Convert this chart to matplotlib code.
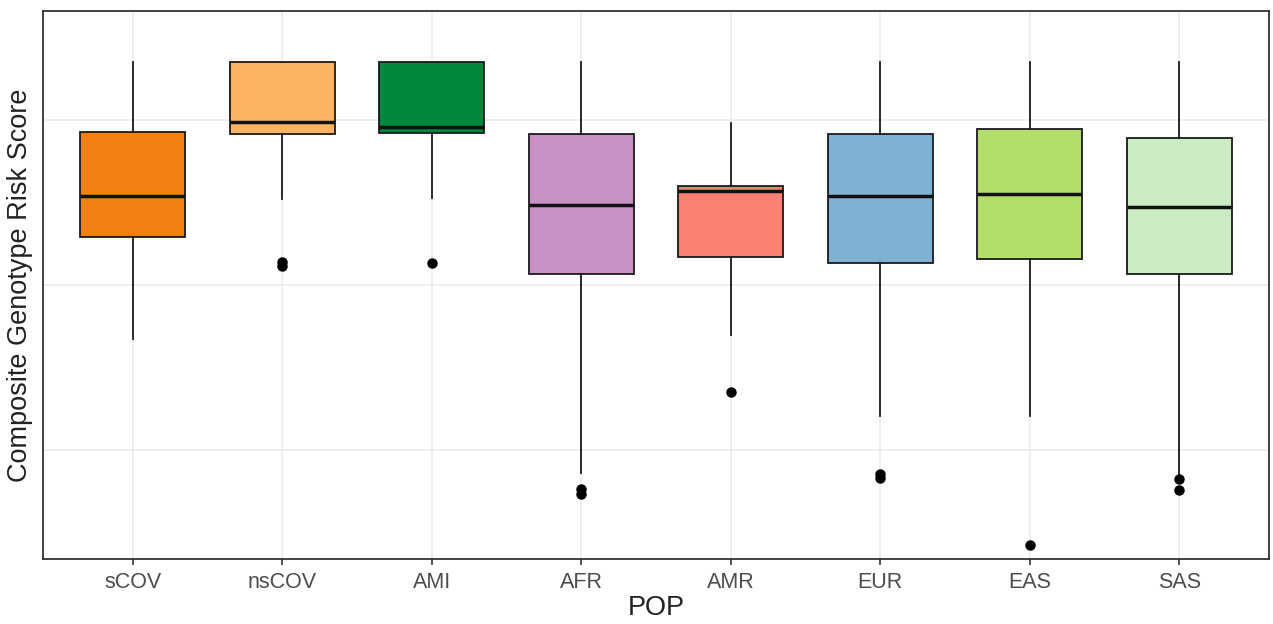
import matplotlib
matplotlib.use("Agg")
import matplotlib.pyplot as plt

plt.rcParams['font.family'] = ['Liberation Sans', 'DejaVu Sans']

pops = ['sCOV', 'nsCOV', 'AMI', 'AFR', 'AMR', 'EUR', 'EAS', 'SAS']
colors = ['#F08010', '#FCB462', '#02883E', '#C990C5', '#FA8072', '#7FB1D3', '#B3DE69', '#CCEBC5']

# box stats (arbitrary units, no y labels shown)
whis_hi = [3.347, 3.347, 3.347, 3.347, 2.979, 3.347, 3.347, 3.347]
q3 = [2.924, 3.347, 3.347, 2.912, 2.598, 2.912, 2.943, 2.888]
medians = [2.538, 2.985, 2.955, 2.483, 2.568, 2.538, 2.550, 2.471]
q1 = [2.290, 2.912, 2.918, 2.066, 2.169, 2.133, 2.157, 2.066]
whis_lo = [1.674, 2.520, 2.526, 0.864, 1.698, 1.208, 1.208, 0.846]
outliers = [[], [2.139, 2.115], [2.133], [0.767, 0.737], [1.353],
            [0.858, 0.834], [0.429], [0.828, 0.761]]

stats = []
for i in range(len(pops)):
    stats.append({'med': medians[i], 'q1': q1[i], 'q3': q3[i],
                  'whislo': whis_lo[i], 'whishi': whis_hi[i],
                  'fliers': outliers[i], 'label': pops[i]})

fig = plt.figure(figsize=(12.73, 6.24), dpi=100)
ax = fig.add_axes([43/1273, 65/624, 1226/1273, 548/624])

ax.set_axisbelow(True)
ax.grid(True, color='#EBEBEB', linewidth=1.2)

bp = ax.bxp(stats, positions=range(1, 9), widths=0.7, patch_artist=True,
            showcaps=False,
            boxprops=dict(edgecolor='#1a1a1a', linewidth=1.3),
            medianprops=dict(color='#111111', linewidth=2.5),
            whiskerprops=dict(color='#1a1a1a', linewidth=1.3),
            flierprops=dict(marker='o', markerfacecolor='black',
                            markeredgecolor='black', markersize=6.5))
for patch, c in zip(bp['boxes'], colors):
    patch.set_facecolor(c)

ax.set_xlim(0.4, 8.6)
ax.set_ylim(0.344, 3.656)
ax.set_yticks([1.0, 2.0, 3.0])
ax.set_yticklabels([])
ax.tick_params(axis='y', length=0)
ax.tick_params(axis='x', length=4, width=1.2, color='#333333',
               labelsize=15.5, labelcolor='#4D4D4D', pad=5)

for s in ax.spines.values():
    s.set_color('#333333')
    s.set_linewidth(1.3)

ax.set_xlabel('POP', fontsize=19.5, color='#222222', labelpad=2)
ax.set_ylabel('Composite Genotype Risk Score', fontsize=19.5, color='#222222', labelpad=4)

fig.savefig('out.png', dpi=100)
